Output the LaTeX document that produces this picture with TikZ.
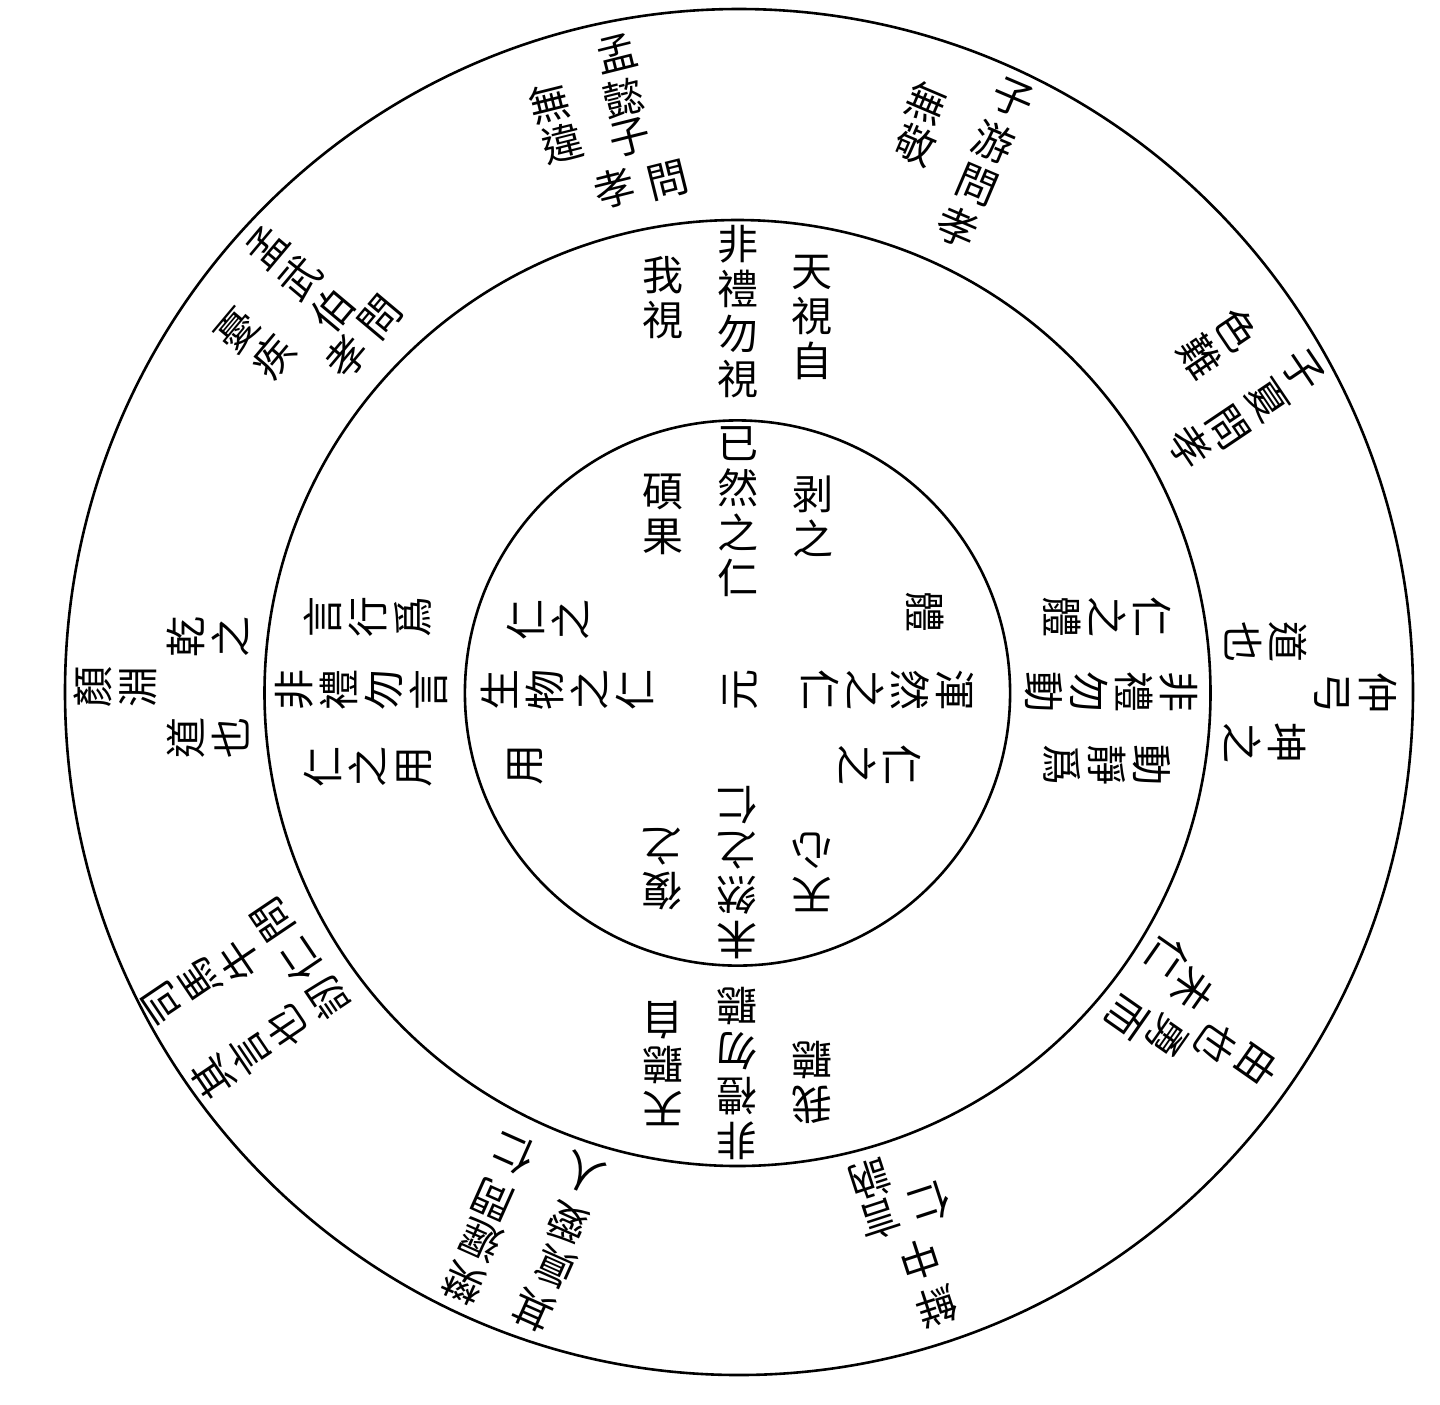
\documentclass[tikz,border=0pt]{standalone}
\usepackage{fontspec}
\newfontfamily\cjk{Noto Sans CJK TC}
\begin{document}
\begin{tikzpicture}[x=0.5pt, y=-0.5pt,
  ring/.style={line width=1.3pt},
  ch/.style={font=\cjk\fontsize{20.5pt}{22.5pt}\selectfont, inner sep=0pt, align=center}]
\useasboundingbox (0,0) rectangle (1440,1404);
\coordinate (O) at (739,692);
\coordinate (C) at (737.5,693);
\draw[ring] (O) ellipse [x radius=337pt, y radius=341.5pt];
\draw[ring] (C) circle[radius=236.5pt];
\draw[ring] (C) circle[radius=136.3pt];
% top middle
\node[ch] (tm1) at (812,318) {天\\視\\自};
\node[ch] (tm2) at (738,312) {非\\禮\\勿\\視};
\node[ch] (tm3) at (663,298) {我\\視};
% top inner
\node[ch] (ti1) at (813,516) {剥\\之};
\node[ch] (ti2) at (738,512) {已\\然\\之\\仁};
\node[ch] (ti3) at (663,514) {碩\\果};
% left middle
\node[ch,rotate=90] (lm1) at (368,617) {言\\行\\爲};
\node[ch,rotate=90] (lm2) at (361,690) {非\\禮\\勿\\言};
\node[ch,rotate=90] (lm3) at (368,767) {仁\\之\\用};
% left inner
\node[ch,rotate=90] (li1) at (548,620) {仁\\之};
\node[ch,rotate=90] (li2) at (567,690) {生\\物\\之\\仁};
\node[ch,rotate=90] (li3) at (525,765) {用};
% right middle
\node[ch,rotate=-90] (rm1) at (1107,617) {仁\\之\\體};
\node[ch,rotate=-90] (rm2) at (1111,692) {非\\禮\\勿\\動};
\node[ch,rotate=-90] (rm3) at (1107,765) {動\\靜\\爲};
% right inner
\node[ch,rotate=-90] (ri1) at (925,612) {體};
\node[ch,rotate=-90] (ri2) at (887,690) {渾\\然\\之\\仁};
\node[ch,rotate=-90] (ri3) at (880,765) {仁\\之};
% bottom middle
\node[ch,rotate=180] (bm1) at (663,1063) {天\\聽\\自};
\node[ch,rotate=180] (bm2) at (737,1073) {非\\禮\\勿\\聽};
\node[ch,rotate=180] (bm3) at (812,1082) {我\\聽};
% bottom inner
\node[ch,rotate=180] (bi1) at (662,869) {復\\之};
\node[ch,rotate=180] (bi2) at (737,873) {未\\然\\之\\仁};
\node[ch,rotate=180] (bi3) at (812,872) {天\\心};
% centre
\node[ch,rotate=90] (ctr) at (740,690) {元};
% left outer
\node[ch,rotate=90] (lo1) at (115,687) {顏\\淵};
\node[ch,rotate=90] (lo2) at (208,637) {乾\\之};
\node[ch,rotate=90] (lo3) at (208,738) {道\\也};
% right outer
\node[ch,rotate=-90] (ro1) at (1356,693) {仲\\弓};
\node[ch,rotate=-90] (ro2) at (1266,642) {道\\也};
\node[ch,rotate=-90] (ro3) at (1265,743) {坤\\之};
% block A
\node[ch,rotate=14] (a1) at (617,53) {孟};
\node[ch,rotate=14] (a2) at (623,98) {懿};
\node[ch,rotate=14] (a3) at (630,138) {子};
\node[ch,rotate=14] (a4) at (615,188) {孝};
\node[ch,rotate=14] (a5) at (668,180) {問};
\node[ch,rotate=14] (a6) at (550,103) {無};
\node[ch,rotate=14] (a7) at (563,143) {違};
% block B
\node[ch,rotate=-23] (b1) at (1013,98) {子};
\node[ch,rotate=-23] (b2) at (993,142) {游};
\node[ch,rotate=-23] (b3) at (977,185) {問};
\node[ch,rotate=-23] (b4) at (957,227) {孝};
\node[ch,rotate=-23] (b5) at (927,103) {無};
\node[ch,rotate=-23] (b6) at (915,145) {敬};
% block C
\node[ch,rotate=-56] (c1) at (1303,370) {子};
\node[ch,rotate=-56] (c2) at (1267,400) {夏};
\node[ch,rotate=-56] (c3) at (1228,427) {問};
\node[ch,rotate=-56] (c4) at (1190,447) {孝};
\node[ch,rotate=-56] (c5) at (1237,330) {色};
\node[ch,rotate=-56] (c6) at (1200,357) {難};
% block J
\node[ch,rotate=50] (j1) at (267,247) {孟};
\node[ch,rotate=50] (j2) at (300,278) {武};
\node[ch,rotate=50] (j3) at (333,310) {伯};
\node[ch,rotate=50] (j4) at (380,317) {問};
\node[ch,rotate=50] (j5) at (347,357) {孝};
\node[ch,rotate=50] (j6) at (237,330) {憂};
\node[ch,rotate=50] (j7) at (273,357) {疾};
% block I
\node[ch,rotate=124] (i1) at (163,1003) {司};
\node[ch,rotate=124] (i2) at (200,980) {馬};
\node[ch,rotate=124] (i3) at (240,960) {牛};
\node[ch,rotate=124] (i4) at (273,920) {問};
\node[ch,rotate=124] (i5) at (300,960) {仁};
\node[ch,rotate=124] (i6) at (213,1077) {其};
\node[ch,rotate=124] (i7) at (250,1053) {言};
\node[ch,rotate=124] (i8) at (287,1027) {也};
\node[ch,rotate=124] (i9) at (327,997) {訒};
% block H
\node[ch,rotate=156] (h1) at (463,1283) {樊};
\node[ch,rotate=156] (h2) at (480,1240) {遲};
\node[ch,rotate=156] (h3) at (493,1200) {問};
\node[ch,rotate=156] (h4) at (513,1153) {仁};
\node[ch,rotate=156] (h5) at (533,1310) {其};
\node[ch,rotate=156] (h6) at (555,1267) {眞};
\node[ch,rotate=156] (h7) at (567,1223) {愛};
\node[ch,rotate=156] (h8) at (583,1173) {人};
% block G
\node[ch,rotate=198] (g1) at (880,1220) {言};
\node[ch,rotate=198] (g2) at (870,1180) {訥};
\node[ch,rotate=198] (g3) at (937,1307) {鮮};
\node[ch,rotate=198] (g4) at (920,1260) {中};
\node[ch,rotate=198] (g5) at (930,1203) {仁};
% block F
\node[ch,rotate=-125] (f1) at (1257,1065) {由};
\node[ch,rotate=-125] (f2) at (1217,1043) {也};
\node[ch,rotate=-125] (f3) at (1167,1037) {勇};
\node[ch,rotate=-125] (f4) at (1127,1017) {而};
\node[ch,rotate=-125] (f5) at (1193,990) {未};
\node[ch,rotate=-125] (f6) at (1167,957) {仁};
\end{tikzpicture}
\end{document}
